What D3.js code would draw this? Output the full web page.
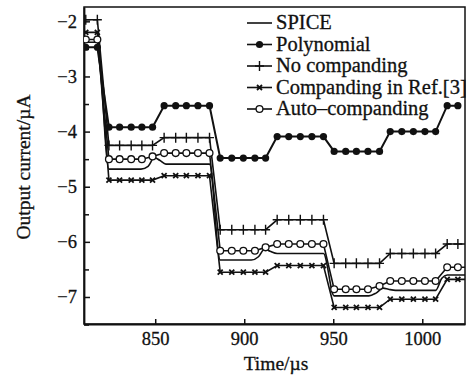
<!DOCTYPE html>
<html>
<head>
<meta charset="utf-8">
<script src="https://cdn.jsdelivr.net/npm/d3@7"></script>
<style>
  body { margin: 0; background: #fff; }
  svg text { font-family: "Liberation Serif", "Times New Roman", serif; fill: #111; stroke: #111; stroke-width: 0.3px; }
</style>
</head>
<body>
<div id="chart"></div>
<script>
// tempi dei campioni (µs)
const times = [811, 817.5, 824, 830, 836.5, 842.5, 848.5, 855, 861.5, 867.5, 874, 880.5,
    886.5, 893, 899.5, 906, 912, 918.5, 925, 931.5, 938, 944.5, 950.5, 957, 963, 969.5, 976,
    982, 988.5, 995, 1001.5, 1007.5, 1014, 1020, 1027];

// serie campionate (µA)
const polynomial = [-2.47, -2.47, -3.92, -3.92, -3.92, -3.92, -3.92, -3.53, -3.53, -3.53, -3.53, -3.53,
    -4.48, -4.48, -4.48, -4.48, -4.48, -4.09, -4.09, -4.09, -4.09, -4.09, -4.36, -4.36, -4.36, -4.36, -4.36,
    -4.0, -4.0, -4.0, -4.0, -4.0, -3.53, -3.53, null];
const noCompanding = [-1.97, -1.97, -4.25, -4.25, -4.25, -4.25, -4.25, -4.11, -4.11, -4.11, -4.11, -4.11,
    -5.78, -5.78, -5.78, -5.78, -5.78, -5.6, -5.6, -5.6, -5.6, -5.6, -6.39, -6.39, -6.39, -6.39, -6.39,
    -6.21, -6.21, -6.21, -6.21, -6.21, -6.04, -6.04, -6.04];
const companRef3 = [-2.2, -2.2, -4.88, -4.88, -4.88, -4.88, -4.88, -4.8, -4.8, -4.8, -4.8, -4.8,
    -6.55, -6.55, -6.55, -6.55, -6.55, -6.43, -6.43, -6.43, -6.43, -6.43, -7.19, -7.19, -7.19, -7.19, -7.19,
    -7.04, -7.04, -7.04, -7.04, -7.04, -6.68, -6.68, -6.68];
const autoCompanding = [-2.33, -2.33, -4.5, -4.5, -4.5, -4.5, -4.45, -4.39, -4.39, -4.39, -4.39, -4.39,
    -6.16, -6.16, -6.16, -6.16, -6.1, -6.04, -6.04, -6.04, -6.04, -6.04, -6.86, -6.86, -6.86, -6.86, -6.8,
    -6.71, -6.71, -6.71, -6.71, -6.71, -6.46, -6.46, -6.46];

// SPICE: curva continua senza marcatori
const spiceTimes = [811, 817.5, 824, 842, 846, 849.5, 852.5, 856, 880.5, 886.5, 904, 908, 911.5, 914.5,
    918.5, 944.5, 950.5, 970, 974, 978, 981, 985, 1007.5, 1011, 1014, 1027];
const spiceValues = [-2.38, -2.38, -4.68, -4.68, -4.63, -4.47, -4.52, -4.59, -4.59, -6.33, -6.33, -6.27,
    -6.13, -6.17, -6.21, -6.21, -6.98, -6.98, -6.93, -6.84, -6.86, -6.88, -6.88, -6.66, -6.6, -6.6];

const xTicks = [850, 900, 950, 1000];
const yTicks = [-7, -6, -5, -4, -3, -2];
const yMinorTicks = [-7.5, -6.5, -5.5, -4.5, -3.5, -2.5];
const legendLabels = ['SPICE', 'Polynomial', 'No companding', 'Companding in Ref.[3]', 'Auto\u2013companding'];

const W = 467, H = 380;
const margin = { left: 84, right: 465, top: 7, bottom: 324 };

const svg = d3.select('#chart').append('svg')
    .attr('width', W).attr('height', H);

const x = d3.scaleLinear().domain([810, 1024]).range([margin.left, margin.right]);
const y = d3.scaleLinear().domain([-7.49, -1.74]).range([margin.bottom, margin.top]);

// clip sull'area del grafico
svg.append('clipPath').attr('id', 'plot-clip')
    .append('rect')
    .attr('x', margin.left).attr('y', margin.top)
    .attr('width', margin.right - margin.left).attr('height', margin.bottom - margin.top);

// cornice (lati alto e destro)
svg.append('rect')
    .attr('x', margin.left).attr('y', margin.top)
    .attr('width', margin.right - margin.left).attr('height', margin.bottom - margin.top)
    .attr('fill', 'none').attr('stroke', '#111').attr('stroke-width', 1.5);

// asse x
svg.append('g')
    .attr('transform', `translate(0, ${margin.bottom})`)
    .call(d3.axisBottom(x).tickValues(xTicks).tickFormat(d3.format('d'))
        .tickSize(-5).tickSizeOuter(0).tickPadding(8));
// asse y
svg.append('g')
    .attr('transform', `translate(${margin.left}, 0)`)
    .call(d3.axisLeft(y).tickValues(yTicks).tickFormat(d3.format('d'))
        .tickSize(-6).tickSizeOuter(0).tickPadding(7));
svg.append('g')
    .attr('transform', `translate(${margin.left}, 0)`)
    .call(d3.axisLeft(y).tickValues(yMinorTicks).tickFormat('').tickSize(-5).tickSizeOuter(0))
    .call((g) => g.select('.domain').remove());

svg.selectAll('.domain').attr('stroke', '#111').attr('stroke-width', 1.8);
svg.selectAll('.tick line').attr('stroke', '#111').attr('stroke-width', 1.5);
svg.selectAll('.tick text').attr('font-size', 18.5).attr('fill', '#111')
    .style('font-family', '"Liberation Serif", serif');

// titoli assi
svg.append('text')
    .attr('x', 276).attr('y', 370)
    .attr('text-anchor', 'middle').attr('font-size', 19.5)
    .text('Time/\u00b5s');
svg.append('text')
    .attr('transform', 'translate(30, 167) rotate(-90)')
    .attr('text-anchor', 'middle').attr('font-size', 19.5)
    .text('Output current/\u00b5A');

// marcatori
function drawMarker(g, kind, cx, cy) {
    if (kind === 'poly') {
        g.append('circle').attr('cx', cx).attr('cy', cy).attr('r', 3.6).attr('fill', '#111');
    } else if (kind === 'plus') {
        g.append('path')
            .attr('d', `M${cx - 4.5},${cy}H${cx + 4.5}M${cx},${cy - 5}V${cy + 5}`)
            .attr('stroke', '#111').attr('stroke-width', 1.4).attr('fill', 'none');
    } else if (kind === 'times') {
        g.append('path')
            .attr('d', d3.symbol(d3.symbolTimes, 18)())
            .attr('transform', `translate(${cx}, ${cy})`)
            .attr('stroke', '#111').attr('stroke-width', 1.8).attr('fill', 'none');
    } else if (kind === 'circle') {
        g.append('circle').attr('cx', cx).attr('cy', cy).attr('r', 3.4)
            .attr('fill', '#fff').attr('stroke', '#111').attr('stroke-width', 1.3);
    }
}

const plot = svg.append('g').attr('clip-path', 'url(#plot-clip)');

const series = [
    { values: companRef3, marker: 'times', width: 1.6 },
    { values: noCompanding, marker: 'plus', width: 1.6 },
    { values: autoCompanding, marker: 'circle', width: 1.6 },
    { values: polynomial, marker: 'poly', width: 2 }
];

const line = d3.line()
    .defined((d) => d[1] != null)
    .x((d) => x(d[0]))
    .y((d) => y(d[1]));

// linea SPICE
plot.append('path')
    .datum(d3.zip(spiceTimes, spiceValues))
    .attr('d', line.curve(d3.curveMonotoneX))
    .attr('fill', 'none').attr('stroke', '#111').attr('stroke-width', 1.6);
line.curve(d3.curveLinear);

for (let s of series) {
    const pts = d3.zip(times, s.values);
    plot.append('path')
        .datum(pts)
        .attr('d', line)
        .attr('fill', 'none').attr('stroke', '#111').attr('stroke-width', s.width);
    const gm = plot.append('g');
    for (let p of pts) {
        if (p[1] == null) continue;
        drawMarker(gm, s.marker, x(p[0]), y(p[1]));
    }
}

// legenda
const legendKinds = [null, 'poly', 'plus', 'times', 'circle'];
const legend = svg.append('g');
legendLabels.forEach((label, i) => {
    const base = 29 + i * 21.5;
    const ly = base - 6;
    legend.append('line')
        .attr('x1', 247).attr('x2', 272).attr('y1', ly).attr('y2', ly)
        .attr('stroke', '#111').attr('stroke-width', 1.6);
    if (legendKinds[i]) drawMarker(legend, legendKinds[i], 259.5, ly);
    legend.append('text')
        .attr('x', 276).attr('y', base)
        .attr('font-size', 20.5)
        .text(label);
});
</script>
</body>
</html>
